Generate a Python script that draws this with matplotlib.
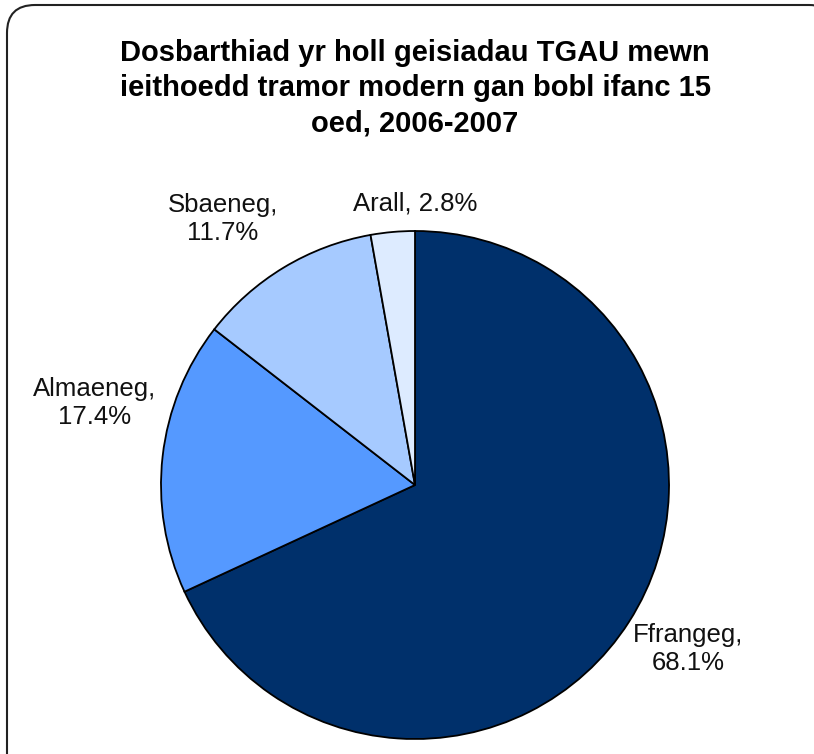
import numpy as np
import matplotlib
matplotlib.use("Agg")
import matplotlib.pyplot as plt
from matplotlib.patches import FancyBboxPatch

# Datos
categorias = ["Ffrangeg", "Almaeneg", "Sbaeneg", "Arall"]
valores = [68.1, 17.4, 11.7, 2.8]
colores = ["#00306B", "#5599FF", "#A6CAFF", "#DDEBFF"]
titulo = "Dosbarthiad yr holl geisiadau TGAU mewn\nieithoedd tramor modern gan bobl ifanc 15\noed, 2006-2007"

plt.rcParams["font.family"] = ["Liberation Sans", "DejaVu Sans"]

W, H = 814, 754
fig = plt.figure(figsize=(W / 100, H / 100), dpi=100)
ax = fig.add_axes([0, 0, 1, 1])

# Marco redondeado
marco = FancyBboxPatch((7, -30), 830, H - 5 + 30,
                       boxstyle="round,pad=0,rounding_size=28",
                       fc="white", ec="#222222", lw=1.5, zorder=0)
ax.add_patch(marco)

# Pastel
cx, cy, r = 415, H - 485, 254
ax.pie(valores, colors=colores, startangle=90, counterclock=False,
       center=(cx, cy), radius=r, frame=True,
       wedgeprops=dict(edgecolor="black", linewidth=1.3))
ax.set_xlim(0, W)
ax.set_ylim(0, H)
ax.set_aspect("equal")
ax.axis("off")

# Etiquetas
etiquetas = [f"{c},\n{v}%" for c, v in zip(categorias, valores)]
etiquetas[3] = f"{categorias[3]}, {valores[3]}%"
pos = [(688, H - 649), (95, H - 403), (223, H - 219), (415, H - 203)]
for t, (x, y) in zip(etiquetas, pos):
    ax.text(x, y, t, ha="center", va="center", fontsize=18.5,
            linespacing=1.26, color="#111111")

ax.text(415, H - 88, titulo, ha="center", va="center", fontsize=21,
        fontweight="bold", linespacing=1.33)

fig.savefig("out.png", dpi=100)
